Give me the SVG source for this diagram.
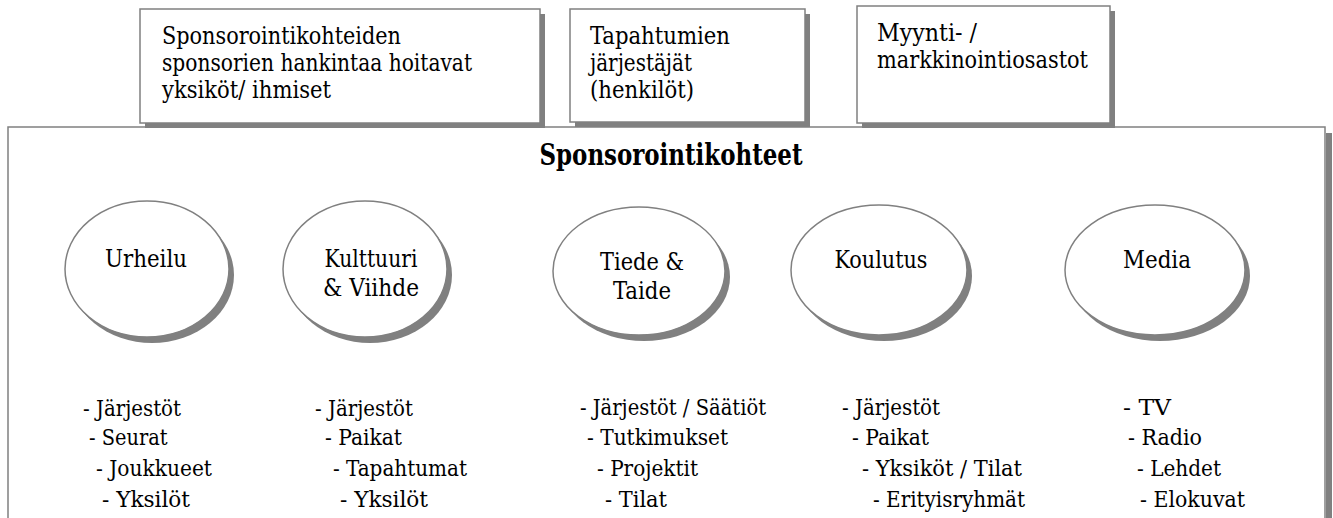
<svg xmlns="http://www.w3.org/2000/svg" width="1333" height="518" viewBox="0 0 1333 518">
  <style>
    text { font-family: 'DejaVu Serif', serif; font-stretch: condensed; fill: #000; }
    .t { font-size: 23.5px; }
    .l { font-size: 22.6px; }
    .title { font-size: 29px; font-weight: bold; }
    .box { fill: #fff; stroke: #808080; stroke-width: 1.5; }
    .shadow { fill: #808080; stroke: none; }
    .oval { fill: #fff; stroke: #808080; stroke-width: 1.5; }
  </style>

  <!-- outer frame: sponsorship targets -->
  <g id="frame">
    <rect x="1326" y="133" width="6" height="390" class="shadow"/>
    <rect x="8" y="127" width="1317" height="420" fill="#fff" stroke="#808080" stroke-width="1.5"/>
    <text class="title" x="671" y="165" text-anchor="middle" textLength="263" lengthAdjust="spacingAndGlyphs">Sponsorointikohteet</text>
  </g>

  <!-- top boxes -->
  <g id="box-hankinta">
    <rect x="145" y="14" width="400" height="114" class="shadow"/>
    <rect x="140" y="9" width="400" height="114" class="box"/>
    <text class="t" x="162" y="44" textLength="239" lengthAdjust="spacingAndGlyphs">Sponsorointikohteiden</text>
    <text class="t" x="162" y="71" textLength="310" lengthAdjust="spacingAndGlyphs">sponsorien hankintaa hoitavat</text>
    <text class="t" x="162" y="98" textLength="169" lengthAdjust="spacingAndGlyphs">yksiköt/ ihmiset</text>
  </g>

  <g id="box-jarjestajat">
    <rect x="575" y="14" width="235" height="113" class="shadow"/>
    <rect x="570" y="9" width="235" height="113" class="box"/>
    <text class="t" x="590" y="44" textLength="140" lengthAdjust="spacingAndGlyphs">Tapahtumien</text>
    <text class="t" x="590" y="71" textLength="102" lengthAdjust="spacingAndGlyphs">järjestäjät</text>
    <text class="t" x="590" y="98" textLength="104" lengthAdjust="spacingAndGlyphs">(henkilöt)</text>
  </g>

  <g id="box-myynti">
    <rect x="862" y="11" width="253" height="117" class="shadow"/>
    <rect x="857" y="6" width="253" height="117" class="box"/>
    <text class="t" x="877" y="41" textLength="100" lengthAdjust="spacingAndGlyphs">Myynti- /</text>
    <text class="t" x="877" y="68" textLength="211" lengthAdjust="spacingAndGlyphs">markkinointiosastot</text>
  </g>

  <!-- categories -->
  <g id="urheilu">
    <ellipse cx="152" cy="275" rx="82" ry="68" class="shadow"/>
    <ellipse cx="147" cy="269" rx="82" ry="68" class="oval"/>
    <text class="t" x="146" y="267" text-anchor="middle" textLength="82" lengthAdjust="spacingAndGlyphs">Urheilu</text>
    <text class="l" x="83" y="416" textLength="98" lengthAdjust="spacingAndGlyphs">- Järjestöt</text>
    <text class="l" x="89" y="445" textLength="78.5" lengthAdjust="spacingAndGlyphs">- Seurat</text>
    <text class="l" x="96" y="476" textLength="116" lengthAdjust="spacingAndGlyphs">- Joukkueet</text>
    <text class="l" x="102" y="507" textLength="88" lengthAdjust="spacingAndGlyphs">- Yksilöt</text>
  </g>

  <g id="kulttuuri">
    <ellipse cx="370" cy="275" rx="82" ry="68" class="shadow"/>
    <ellipse cx="365" cy="269" rx="82" ry="68" class="oval"/>
    <text class="t" x="371" y="267" text-anchor="middle" textLength="93" lengthAdjust="spacingAndGlyphs">Kulttuuri</text>
    <text class="t" x="371" y="296" text-anchor="middle" textLength="96" lengthAdjust="spacingAndGlyphs">&amp; Viihde</text>
    <text class="l" x="315" y="416" textLength="98" lengthAdjust="spacingAndGlyphs">- Järjestöt</text>
    <text class="l" x="325" y="445" textLength="77" lengthAdjust="spacingAndGlyphs">- Paikat</text>
    <text class="l" x="333" y="476" textLength="134" lengthAdjust="spacingAndGlyphs">- Tapahtumat</text>
    <text class="l" x="340" y="507" textLength="88" lengthAdjust="spacingAndGlyphs">- Yksilöt</text>
  </g>

  <g id="tiede">
    <ellipse cx="644" cy="277" rx="86" ry="64" class="shadow"/>
    <ellipse cx="639" cy="271" rx="86" ry="64" class="oval"/>
    <text class="t" x="642" y="270" text-anchor="middle" textLength="84" lengthAdjust="spacingAndGlyphs">Tiede &amp;</text>
    <text class="t" x="642" y="299" text-anchor="middle" textLength="58" lengthAdjust="spacingAndGlyphs">Taide</text>
    <text class="l" x="580" y="415" textLength="186" lengthAdjust="spacingAndGlyphs">- Järjestöt / Säätiöt</text>
    <text class="l" x="587" y="445" textLength="141" lengthAdjust="spacingAndGlyphs">- Tutkimukset</text>
    <text class="l" x="597" y="476" textLength="101" lengthAdjust="spacingAndGlyphs">- Projektit</text>
    <text class="l" x="605" y="507" textLength="62" lengthAdjust="spacingAndGlyphs">- Tilat</text>
  </g>

  <g id="koulutus">
    <ellipse cx="884" cy="276" rx="88" ry="65" class="shadow"/>
    <ellipse cx="879" cy="270" rx="88" ry="65" class="oval"/>
    <text class="t" x="881" y="268" text-anchor="middle" textLength="93" lengthAdjust="spacingAndGlyphs">Koulutus</text>
    <text class="l" x="842" y="415" textLength="98" lengthAdjust="spacingAndGlyphs">- Järjestöt</text>
    <text class="l" x="852" y="445" textLength="77" lengthAdjust="spacingAndGlyphs">- Paikat</text>
    <text class="l" x="862" y="476" textLength="160" lengthAdjust="spacingAndGlyphs">- Yksiköt / Tilat</text>
    <text class="l" x="873" y="507" textLength="152" lengthAdjust="spacingAndGlyphs">- Erityisryhmät</text>
  </g>

  <g id="media">
    <ellipse cx="1160" cy="276" rx="90" ry="65" class="shadow"/>
    <ellipse cx="1155" cy="270" rx="90" ry="65" class="oval"/>
    <text class="t" x="1157" y="268" text-anchor="middle" textLength="68" lengthAdjust="spacingAndGlyphs">Media</text>
    <text class="l" x="1123" y="415" textLength="48" lengthAdjust="spacingAndGlyphs">- TV</text>
    <text class="l" x="1128" y="445" textLength="74" lengthAdjust="spacingAndGlyphs">- Radio</text>
    <text class="l" x="1137" y="476" textLength="84" lengthAdjust="spacingAndGlyphs">- Lehdet</text>
    <text class="l" x="1140" y="507" textLength="105" lengthAdjust="spacingAndGlyphs">- Elokuvat</text>
  </g>
</svg>
